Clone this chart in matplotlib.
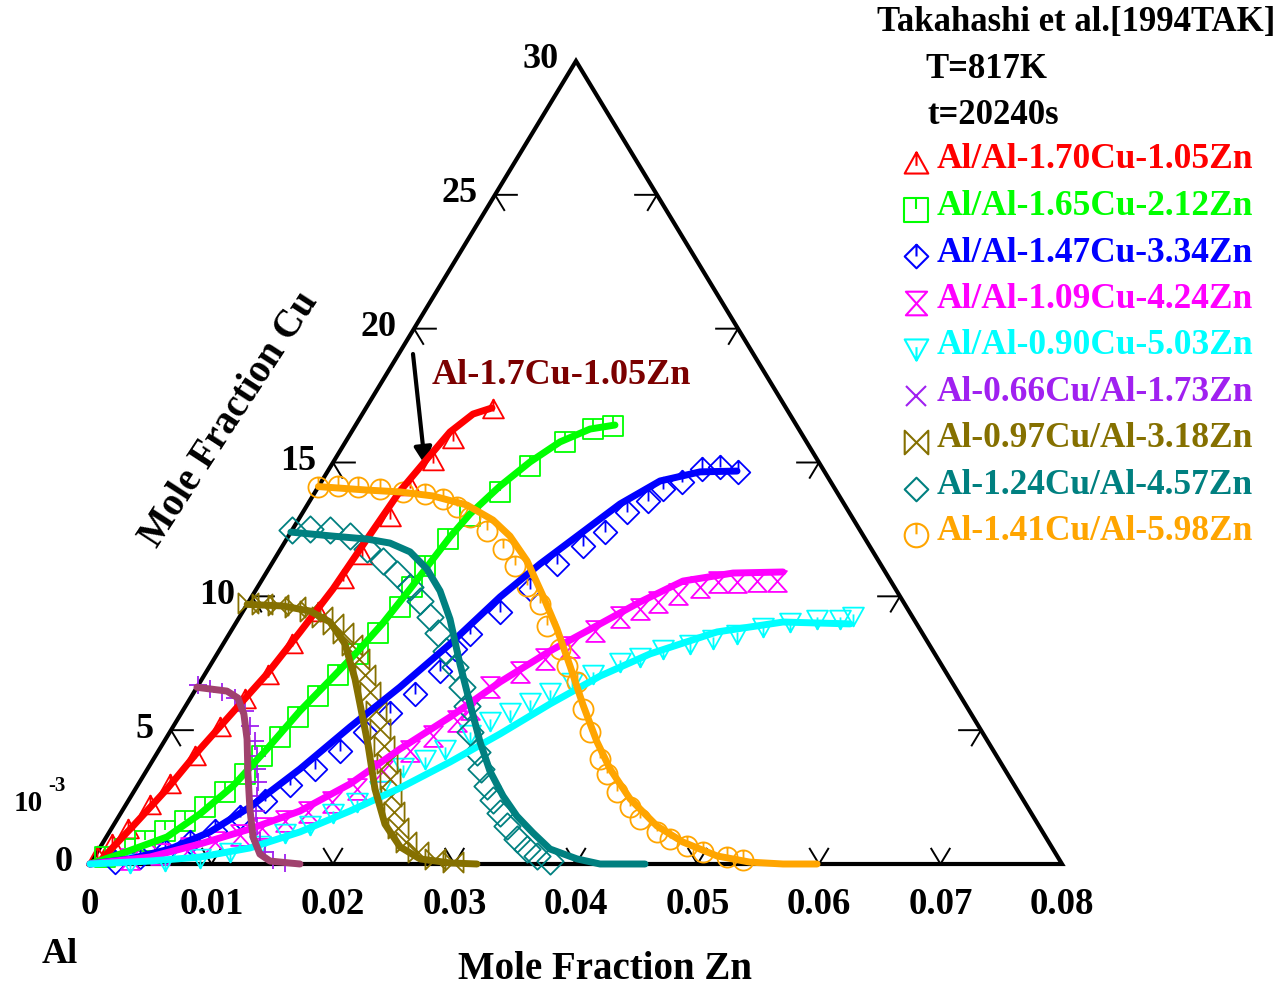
import numpy as np
import matplotlib
matplotlib.use('Agg')
import matplotlib.pyplot as plt
from matplotlib.path import Path
from matplotlib.transforms import Affine2D, offset_copy

plt.rcParams['font.family'] = ['Liberation Serif', 'DejaVu Serif']
plt.rcParams['font.weight'] = 'bold'

W, H = 1280, 987
ZN_MAX = 0.08      # mole fraction Zn at right vertex
CU_MAX = 30.0      # mole fraction Cu (x 10^-3) at top vertex

# ---------------- data (Zn mole fraction, Cu in 10^-3) ----------------
RED_LINE_ZN = [0.0, 0.00067, 0.00165, 0.00260, 0.00333, 0.00420, 0.00510, 0.00573, 0.00630, 0.00661, 0.00694, 0.00756, 0.00811, 0.00911, 0.01037]
RED_LINE_CU = [0.0, 0.11, 1.42, 2.80, 4.30, 5.68, 7.10, 8.67, 10.27, 12.14, 13.94, 15.13, 16.14, 16.81, 17.04]
RED_PTS_ZN = [0.00018, 0.00081, 0.00138, 0.00200, 0.00260, 0.00326, 0.00388, 0.00454, 0.00524, 0.00567, 0.00621, 0.00663, 0.00700, 0.00741, 0.00751, 0.00816, 0.00871, 0.01051]
RED_PTS_CU = [0.30, 0.75, 1.31, 2.20, 2.99, 4.03, 5.12, 6.16, 7.06, 8.22, 9.41, 10.65, 11.54, 12.96, 14.12, 15.06, 15.88, 17.00]

GREEN_LINE_ZN = [0.0, 0.00197, 0.00499, 0.00656, 0.00788, 0.00884, 0.00966, 0.01069, 0.01145, 0.01211, 0.01264, 0.01304, 0.01334, 0.01384, 0.01492, 0.01619, 0.01766, 0.01949, 0.02134]
GREEN_LINE_CU = [0.0, 0.37, 1.01, 1.87, 2.91, 4.30, 5.72, 6.99, 7.96, 9.00, 10.27, 11.39, 12.22, 13.08, 14.12, 15.02, 15.77, 16.25, 16.40]
GREEN_PTS_ZN = [0.00089, 0.00213, 0.00338, 0.00453, 0.00568, 0.00663, 0.00752, 0.00827, 0.00878, 0.00931, 0.00980, 0.01040, 0.01100, 0.01160, 0.01220, 0.01271, 0.01272, 0.01273, 0.01328, 0.01394, 0.01522, 0.01639, 0.01808, 0.01973, 0.02123]
GREEN_PTS_CU = [0.26, 0.56, 0.86, 1.23, 1.61, 2.13, 2.69, 3.36, 4.03, 4.74, 5.49, 6.28, 7.06, 7.85, 8.63, 9.60, 10.35, 11.13, 12.14, 13.00, 13.90, 14.87, 15.77, 16.25, 16.36]

BLUE_LINE_ZN = [0.0, 0.00304, 0.00584, 0.00828, 0.01033, 0.01255, 0.01458, 0.01670, 0.01867, 0.02045, 0.02209, 0.02389, 0.02569, 0.02784, 0.03068, 0.03368]
BLUE_LINE_CU = [0.0, 0.19, 0.56, 1.20, 2.13, 3.55, 5.12, 6.61, 8.22, 9.98, 11.21, 12.33, 13.45, 14.31, 14.65, 14.68]
BLUE_PTS_ZN = [0.00196, 0.00377, 0.00553, 0.00713, 0.00864, 0.01000, 0.01127, 0.01253, 0.01379, 0.01495, 0.01606, 0.01717, 0.01828, 0.01919, 0.01933, 0.01982, 0.02119, 0.02252, 0.02349, 0.02474, 0.02585, 0.02667, 0.02785, 0.02848, 0.02970, 0.03070, 0.03208, 0.03381]
BLUE_PTS_CU = [0.07, 0.26, 0.49, 0.82, 1.23, 1.76, 2.35, 2.95, 3.55, 4.22, 4.93, 5.64, 6.35, 7.21, 8.03, 8.59, 9.41, 10.27, 11.21, 11.88, 12.40, 13.15, 13.56, 14.01, 14.27, 14.76, 14.83, 14.65]

MAGENTA_LINE_ZN = [0.0, 0.00459, 0.00806, 0.01143, 0.01464, 0.01741, 0.01979, 0.02231, 0.02468, 0.02725, 0.03002, 0.03222, 0.03471, 0.03843, 0.04249]
MAGENTA_LINE_CU = [0.0, 0.26, 0.75, 1.31, 1.98, 2.99, 4.30, 5.49, 6.80, 7.96, 8.97, 9.79, 10.57, 10.87, 10.91]
MAGENTA_PTS_ZN = [0.00304, 0.00526, 0.00743, 0.00919, 0.01090, 0.01236, 0.01391, 0.01535, 0.01683, 0.01824, 0.01948, 0.02071, 0.02186, 0.02308, 0.02356, 0.02411, 0.02583, 0.02724, 0.02870, 0.02996, 0.03132, 0.03257, 0.03370, 0.03495, 0.03641, 0.03764, 0.03921, 0.04080, 0.04245]
MAGENTA_PTS_CU = [0.19, 0.37, 0.60, 0.82, 1.08, 1.34, 1.61, 1.94, 2.32, 2.80, 3.47, 4.22, 4.78, 5.34, 5.79, 6.61, 7.17, 7.66, 8.11, 8.70, 9.23, 9.53, 9.79, 10.09, 10.35, 10.54, 10.54, 10.57, 10.57]

CYAN_LINE_ZN = [0.0, 0.00479, 0.00871, 0.01237, 0.01569, 0.01876, 0.02173, 0.02455, 0.02727, 0.02989, 0.03261, 0.03563, 0.04005, 0.04498, 0.05060]
CYAN_LINE_CU = [0.0, 0.11, 0.26, 0.60, 1.20, 1.98, 2.84, 3.81, 4.86, 5.98, 7.02, 7.85, 8.67, 9.04, 8.97]
CYAN_PTS_ZN = [0.00324, 0.00602, 0.00875, 0.01093, 0.01305, 0.01451, 0.01616, 0.01746, 0.01889, 0.02018, 0.02093, 0.02234, 0.02349, 0.02480, 0.02580, 0.02700, 0.02815, 0.02929, 0.03061, 0.03194, 0.03356, 0.03496, 0.03645, 0.03843, 0.04007, 0.04180, 0.04359, 0.04556, 0.04763, 0.04953, 0.05045]
CYAN_PTS_CU = [0.04, 0.11, 0.22, 0.45, 0.71, 1.16, 1.46, 1.91, 2.32, 2.76, 3.62, 3.92, 4.30, 4.86, 5.34, 5.68, 6.05, 6.43, 6.80, 7.10, 7.55, 7.73, 8.03, 8.22, 8.41, 8.59, 8.85, 9.04, 9.15, 9.15, 9.27]

PURPLE_LINE_ZN = [0.0, 0.00116, 0.00266, 0.00391, 0.00520, 0.00670, 0.00852, 0.01043, 0.01207, 0.01349, 0.01467, 0.01728]
PURPLE_LINE_CU = [6.6, 6.54, 6.46, 6.20, 5.60, 4.67, 3.36, 2.05, 1.01, 0.37, 0.11, 0.0]
PURPLE_PTS_ZN = [0.0, 0.00116, 0.00230, 0.00367, 0.00514, 0.00630, 0.00745, 0.00837, 0.00901, 0.00974, 0.01036, 0.01102, 0.01185, 0.01285, 0.01381, 0.01486, 0.01600]
PURPLE_PTS_CU = [6.69, 6.54, 6.43, 6.20, 5.72, 5.16, 4.60, 4.03, 3.55, 3.06, 2.54, 1.98, 1.42, 0.86, 0.45, 0.15, 0.04]

OLIVE_LINE_ZN = [0.0, 0.00303, 0.00551, 0.00770, 0.01003, 0.01260, 0.01492, 0.01690, 0.01972, 0.02229, 0.02467, 0.02691, 0.02958, 0.03185]
OLIVE_LINE_CU = [9.7, 9.64, 9.45, 9.04, 8.22, 6.91, 5.60, 4.48, 2.80, 1.49, 0.64, 0.19, 0.04, 0.0]
OLIVE_PTS_ZN = [0.0, 0.00121, 0.00257, 0.00407, 0.00551, 0.00679, 0.00805, 0.00932, 0.01066, 0.01193, 0.01322, 0.01448, 0.01592, 0.01714, 0.01832, 0.01941, 0.02046, 0.02139, 0.02243, 0.02356, 0.02491, 0.02640, 0.02815, 0.02978]
OLIVE_PTS_CU = [9.75, 9.71, 9.68, 9.60, 9.45, 9.23, 8.97, 8.63, 8.18, 7.66, 7.06, 6.43, 5.72, 5.04, 4.41, 3.77, 3.18, 2.54, 1.94, 1.34, 0.82, 0.45, 0.19, 0.07]

TEAL_LINE_ZN = [0.0, 0.00366, 0.00661, 0.00870, 0.01080, 0.01304, 0.01521, 0.01743, 0.02049, 0.02331, 0.02602, 0.02829, 0.03061, 0.03275, 0.03492, 0.03711, 0.03983, 0.04198, 0.04568]
TEAL_LINE_CU = [12.4, 12.25, 12.14, 11.99, 11.66, 11.02, 10.20, 9.15, 7.47, 5.98, 4.56, 3.47, 2.54, 1.79, 1.16, 0.56, 0.19, 0.0, 0.0]
TEAL_PTS_ZN = [0.0, 0.00142, 0.00312, 0.00506, 0.00711, 0.00902, 0.01082, 0.01254, 0.01406, 0.01568, 0.01714, 0.01869, 0.02023, 0.02180, 0.02316, 0.02470, 0.02627, 0.02745, 0.02879, 0.02998, 0.03120, 0.03243, 0.03390, 0.03522, 0.03639, 0.03771]
TEAL_PTS_CU = [12.48, 12.52, 12.48, 12.25, 11.77, 11.32, 10.83, 10.35, 9.83, 9.23, 8.63, 7.96, 7.36, 6.61, 5.90, 4.93, 4.18, 3.55, 2.91, 2.39, 1.91, 1.42, 0.93, 0.56, 0.30, 0.11]

ORANGE_LINE_ZN = [0.0, 0.00417, 0.00699, 0.00990, 0.01315, 0.01603, 0.01823, 0.02088, 0.02394, 0.02673, 0.02964, 0.03266, 0.03565, 0.03807, 0.04121, 0.04477, 0.04771, 0.05121, 0.05422, 0.05704, 0.05984]
ORANGE_LINE_CU = [14.1, 13.97, 13.90, 13.75, 13.41, 12.85, 12.25, 11.32, 10.01, 8.78, 7.40, 5.94, 4.56, 3.55, 2.43, 1.42, 0.82, 0.30, 0.07, 0.0, 0.0]
ORANGE_PTS_ZN = [0.0, 0.00158, 0.00328, 0.00519, 0.00723, 0.00914, 0.01087, 0.01242, 0.01399, 0.01609, 0.01830, 0.02014, 0.02212, 0.02409, 0.02576, 0.02797, 0.02940, 0.03102, 0.03286, 0.03458, 0.03675, 0.03807, 0.03979, 0.04161, 0.04303, 0.04507, 0.04649, 0.04824, 0.04986, 0.05208, 0.05355]
ORANGE_PTS_CU = [14.08, 14.12, 14.08, 14.01, 13.90, 13.82, 13.64, 13.34, 12.96, 12.44, 11.77, 11.13, 10.39, 9.71, 8.89, 8.03, 7.40, 6.80, 5.79, 4.93, 3.92, 3.36, 2.69, 2.13, 1.68, 1.20, 0.93, 0.67, 0.45, 0.26, 0.15]

LABELS = ['Al/Al-1.70Cu-1.05Zn', 'Al/Al-1.65Cu-2.12Zn', 'Al/Al-1.47Cu-3.34Zn',
          'Al/Al-1.09Cu-4.24Zn', 'Al/Al-0.90Cu-5.03Zn', 'Al-0.66Cu/Al-1.73Zn',
          'Al-0.97Cu/Al-3.18Zn', 'Al-1.24Cu/Al-4.57Zn', 'Al-1.41Cu/Al-5.98Zn']
CU_TICKS = [5, 10, 15, 20, 25]
CU_TICK_LABELS = ['0', '5', '10', '15', '20', '25', '30']
ZN_TICKS = [0.01, 0.02, 0.03, 0.04, 0.05, 0.06, 0.07]
ZN_TICK_LABELS = ['0', '0.01', '0.02', '0.03', '0.04', '0.05', '0.06', '0.07', '0.08']

# ---------------- markers ----------------
MV, LT, CP = Path.MOVETO, Path.LINETO, Path.CLOSEPOLY


def poly_marker(poly, tick=None):
    verts = list(poly) + [poly[0]]
    codes = [MV] + [LT] * (len(poly) - 1) + [CP]
    if tick is not None:
        verts += list(tick)
        codes += [MV, LT]
    return Path(verts, codes)


M_TRI = poly_marker([(-1, -0.85), (1, -0.85), (0, 0.95)], [(0, 0.95), (0, -0.2)])
M_SQR = poly_marker([(-1, -1), (1, -1), (1, 1), (-1, 1)], [(0, 1), (0, 0.1)])
M_DIA = poly_marker([(0, 1), (1, 0), (0, -1), (-1, 0)], [(0, 1), (0, 0)])
M_HRG = poly_marker([(-0.9, 1), (0.9, 1), (-0.9, -1), (0.9, -1)])
M_DTR = poly_marker([(-1, 0.85), (1, 0.85), (0, -0.95)], [(0, -0.95), (0, 0.2)])
M_BOW = poly_marker([(-1, 1), (-1, -1), (1, 1), (1, -1)])
M_DIA2 = poly_marker([(0, 1), (1, 0), (0, -1), (-1, 0)])
M_CIR = Path.make_compound_path(Path.unit_circle(), Path([(0, 1), (0, 0.1)], [MV, LT]))

SERIES = [
    dict(lz=RED_LINE_ZN, lc=RED_LINE_CU, pz=RED_PTS_ZN, pc=RED_PTS_CU, line='#FF0000', mk='#FF0000', m=M_TRI, lm=M_TRI, ms=15),
    dict(lz=GREEN_LINE_ZN, lc=GREEN_LINE_CU, pz=GREEN_PTS_ZN, pc=GREEN_PTS_CU, line='#00FF00', mk='#00FF00', m=M_SQR, lm=M_SQR, ms=14.5),
    dict(lz=BLUE_LINE_ZN, lc=BLUE_LINE_CU, pz=BLUE_PTS_ZN, pc=BLUE_PTS_CU, line='#0000FF', mk='#0000FF', m=M_DIA, lm=M_DIA, ms=17),
    dict(lz=MAGENTA_LINE_ZN, lc=MAGENTA_LINE_CU, pz=MAGENTA_PTS_ZN, pc=MAGENTA_PTS_CU, line='#FF00FF', mk='#FF00FF', m=M_HRG, lm=M_HRG, ms=15),
    dict(lz=CYAN_LINE_ZN, lc=CYAN_LINE_CU, pz=CYAN_PTS_ZN, pc=CYAN_PTS_CU, line='#00FFFF', mk='#00FFFF', m=M_DTR, lm=M_DTR, ms=15),
    dict(lz=PURPLE_LINE_ZN, lc=PURPLE_LINE_CU, pz=PURPLE_PTS_ZN, pc=PURPLE_PTS_CU, line='#A0426E', mk='#A020F0', m='+', lm='x', ms=13),
    dict(lz=OLIVE_LINE_ZN, lc=OLIVE_LINE_CU, pz=OLIVE_PTS_ZN, pc=OLIVE_PTS_CU, line='#857000', mk='#857000', m=M_BOW, lm=M_BOW, ms=14.5),
    dict(lz=TEAL_LINE_ZN, lc=TEAL_LINE_CU, pz=TEAL_PTS_ZN, pc=TEAL_PTS_CU, line='#008080', mk='#008080', m=M_DIA2, lm=M_DIA2, ms=19),
    dict(lz=ORANGE_LINE_ZN, lc=ORANGE_LINE_CU, pz=ORANGE_PTS_ZN, pc=ORANGE_PTS_CU, line='#FFA500', mk='#FFA500', m=M_CIR, lm=M_CIR, ms=14.5),
]

# ---------------- figure ----------------
fig = plt.figure(figsize=(W / 100, H / 100), dpi=100)
ax = fig.add_axes([90 / W, (H - 865) / H, 972 / W, 803 / H])
ax.set_xlim(0, 1)
ax.set_ylim(0, 1)
ax.axis('off')

# (Zn, Cu) -> triangle coordinates
tern = Affine2D(np.array([[1 / ZN_MAX, 0.5 / CU_MAX, 0.0],
                          [0.0, 1 / CU_MAX, 0.0],
                          [0.0, 0.0, 1.0]])) + ax.transData


def P(x, y):
    return x / W, 1 - y / H


# triangle frame
ax.plot([0, ZN_MAX, 0, 0], [0, 0, CU_MAX, 0], color='black', lw=3.0,
        transform=tern, solid_joinstyle='miter', clip_on=False, zorder=1)

# ticks
dzn_h = 0.0018
t = 0.019
for c in CU_TICKS:
    ax.plot([dzn_h, 0, ZN_MAX * t], [c, c, c - CU_MAX * t], color='black', lw=1.4,
            transform=tern, clip_on=False, zorder=1)
    zr = ZN_MAX * (1 - c / CU_MAX)
    ax.plot([zr - dzn_h, zr, zr], [c, c, c - CU_MAX * t], color='black', lw=1.4,
            transform=tern, clip_on=False, zorder=1)
for z in ZN_TICKS:
    ax.plot([z - ZN_MAX * t, z, z], [CU_MAX * t, 0, CU_MAX * t], color='black', lw=1.4,
            transform=tern, clip_on=False, zorder=1)

# tick labels
lab_left = offset_copy(tern, fig=fig, x=-17, y=2, units='dots')
for i, lab in enumerate(CU_TICK_LABELS):
    ax.text(0, i * 5, lab, transform=lab_left, ha='right', va='center',
            fontsize=26, fontweight='bold', clip_on=False)
lab_bot = offset_copy(tern, fig=fig, x=0, y=-40, units='dots')
for i, lab in enumerate(ZN_TICK_LABELS):
    ax.text(i * 0.01, 0, lab, transform=lab_bot, ha='center', va='center',
            fontsize=26.5, fontweight='bold', clip_on=False)

# data
for s in SERIES:
    ax.plot(s['pz'], s['pc'], ls='none', marker=s['m'], ms=s['ms'], mfc='none',
            mec=s['mk'], mew=1.3, transform=tern, clip_on=False, zorder=3)
    ax.plot(s['lz'], s['lc'], color=s['line'], lw=5.0, solid_capstyle='round',
            solid_joinstyle='round', transform=tern, clip_on=False, zorder=4)

# axis titles
fig.text(*P(60, 955), 'Al', ha='center', va='center', fontsize=26, fontweight='bold')
fig.text(*P(605, 970), 'Mole Fraction Zn', ha='center', va='center', fontsize=28, fontweight='bold')
fig.text(*P(230, 420), 'Mole Fraction Cu', ha='center', va='center', rotation=57,
         rotation_mode='anchor', fontsize=28, fontweight='bold')
fig.text(*P(28, 804), '10', ha='center', va='center', fontsize=21, fontweight='bold')
fig.text(*P(57, 786), '-3', ha='center', va='center', fontsize=15, fontweight='bold')

# annotation
fig.text(*P(561, 376), 'Al-1.7Cu-1.05Zn', ha='center', va='center', fontsize=26,
         fontweight='bold', color='#7B0000')
ax.annotate('', xy=P(425, 466), xytext=P(413, 355), xycoords='figure fraction',
            textcoords='figure fraction',
            arrowprops=dict(arrowstyle='-|>', color='black', lw=3, mutation_scale=26,
                            shrinkA=0, shrinkB=0))

# legend block
fig.text(*P(1076, 22), 'Takahashi et al.[1994TAK]', ha='center', va='center', fontsize=25, fontweight='bold')
fig.text(*P(925, 70), 'T=817K', ha='left', va='center', fontsize=25, fontweight='bold')
fig.text(*P(928, 115), 't=20240s', ha='left', va='center', fontsize=25, fontweight='bold')
row_y0, row_dy = 160, 46.5
for i, (s, lab) in enumerate(zip(SERIES, LABELS)):
    y = row_y0 + i * row_dy
    fx, fy = P(916, y + 4)
    fig.add_artist(plt.Line2D([fx], [fy], transform=fig.transFigure, ls='none',
                              marker=s['lm'], ms=17 if s['lm'] != 'x' else 15,
                              mfc='none', mec=s['mk'], mew=1.5))
    fig.text(*P(937, y), lab, ha='left', va='center', fontsize=25.5,
             fontweight='bold', color=s['mk'])

fig.savefig('out.png', dpi=100)
